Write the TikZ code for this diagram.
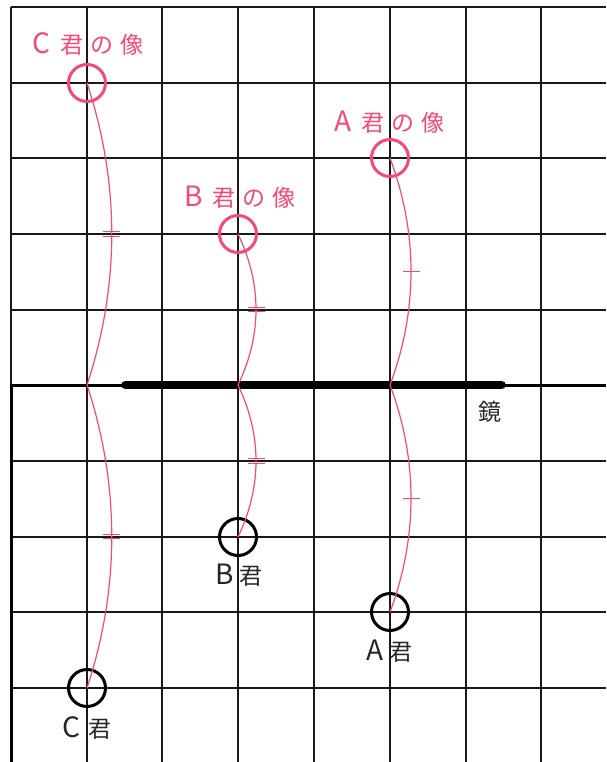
\documentclass[tikz,border=0pt]{standalone}
\usepackage{fontspec}
\newfontfamily\jp{Noto Sans CJK JP}
\definecolor{pk}{RGB}{245,75,115}
\newcommand{\bigL}[1]{{\fontsize{28}{30}\selectfont\addfontfeature{Weight=Light}#1}}
\begin{document}
\begin{tikzpicture}[x=1pt,y=-1pt,
  gridline/.style={line width=1.6pt, black!90},
  person/.style={circle, draw=black, line width=3pt, minimum size=37pt, inner sep=0pt},
  imagec/.style={circle, draw=pk, line width=3pt, minimum size=37pt, inner sep=0pt},
  ray/.style={draw=pk, line width=1.2pt},
  tickmark/.style={draw=pk, line width=1.2pt},
  plabel/.style={font=\jp\fontsize{23}{26}\selectfont, text=black!85, inner sep=0pt},
  ilabel/.style={font=\jp\fontsize{23}{26}\selectfont, text=pk, inner sep=0pt},
]
\useasboundingbox (0,0) rectangle (606,762);
% grid
\foreach \gx in {11,87,162,238,314,390,466,541} \draw[gridline] (\gx,7) -- (\gx,762);
\foreach \gy in {7,83,158,234,310,385,461,537,612,688} \draw[gridline] (11,\gy) -- (606,\gy);
% mirror base line and left edge
\coordinate (ml) at (11,385);
\coordinate (mr) at (606,385);
\coordinate (lb) at (11,762);
\draw[line width=3pt] (ml) -- (mr);
\draw[line width=3pt] (ml) -- (lb);
\coordinate (ms) at (125.5,385);
\coordinate (me) at (501.5,385);
\draw[line width=8.7pt, line cap=round] (ms) -- (me);
\node[font=\jp\fontsize{23}{26}\selectfont, text=black!85, inner sep=0pt] (kagami) at (490,412) {鏡};
% mirror points
\coordinate (Am) at (390,385);
\coordinate (Bm) at (238,385);
\coordinate (Cm) at (87,385);
% persons
\node[person] (A) at (390,612) {};
\node[person] (B) at (238,537) {};
\node[person] (C) at (87,688) {};
% images
\node[imagec] (Ai) at (390,158) {};
\node[imagec] (Bi) at (238,234) {};
\node[imagec] (Ci) at (87,83) {};
% labels
\node[plabel] (Al) at (389.5,651) {\bigL{A}\hspace{6pt}君};
\node[plabel] (Bl) at (239,575) {\bigL{B}\hspace{6pt}君};
\node[plabel] (Cl) at (87,728) {\bigL{C}\hspace{9pt}君};
\node[ilabel] (Ail) at (389.5,122) {\bigL{A}\hspace{9pt}君\hspace{7pt}の\hspace{7pt}像};
\node[ilabel] (Bil) at (240,197) {\bigL{B}\hspace{9pt}君\hspace{7pt}の\hspace{7pt}像};
\node[ilabel] (Cil) at (88,44) {\bigL{C}\hspace{11pt}君\hspace{7pt}の\hspace{7pt}像};
% rays
\draw[ray] (Ai.center) .. controls +(28,75) and +(28,-75) .. (Am) coordinate[pos=0.5] (At1)
  .. controls +(28,75) and +(28,-75) .. (A.center) coordinate[pos=0.5] (At2);
\draw[ray] (Bi.center) .. controls +(24,50) and +(24,-50) .. (Bm) coordinate[pos=0.5] (Bt1)
  .. controls +(24,50) and +(24,-50) .. (B.center) coordinate[pos=0.5] (Bt2);
\draw[ray] (Ci.center) .. controls +(33,100) and +(33,-100) .. (Cm) coordinate[pos=0.5] (Ct1)
  .. controls +(33,100) and +(33,-100) .. (C.center) coordinate[pos=0.5] (Ct2);
% ticks
\foreach \t in {At1,At2}
  \draw[tickmark] ([xshift=-8.5pt]\t) -- ([xshift=8.5pt]\t);
\foreach \t in {Bt1,Bt2,Ct1,Ct2}{
  \draw[tickmark] ([xshift=-8.5pt,yshift=2.3pt]\t) -- ([xshift=8.5pt,yshift=2.3pt]\t);
  \draw[tickmark] ([xshift=-8.5pt,yshift=-2.3pt]\t) -- ([xshift=8.5pt,yshift=-2.3pt]\t);
}
\end{tikzpicture}
\end{document}
